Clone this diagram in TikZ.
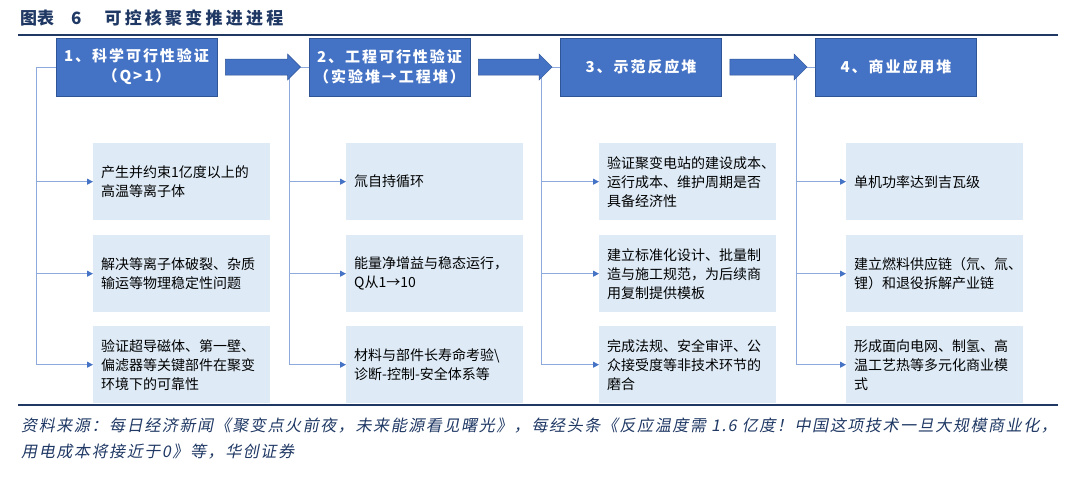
\documentclass[tikz,border=0pt]{standalone}
\usepackage{fontspec}
\setmainfont{Noto Sans CJK SC}
\newfontfamily\cjkhead[LetterSpace=13]{Noto Sans CJK SC}
\newfontfamily\cjktitle[LetterSpace=19]{Noto Sans CJK SC}
\newfontfamily\cjksrc[LetterSpace=10,FakeSlant=0.2]{Noto Sans CJK SC}
\usetikzlibrary{arrows.meta,calc}
\definecolor{navy}{HTML}{1F3864}
\definecolor{hdrfill}{HTML}{4472C4}
\definecolor{hdrdraw}{HTML}{2F5597}
\definecolor{detfill}{HTML}{DEEBF7}
\definecolor{connclr}{HTML}{8EA9DB}
\definecolor{tipclr}{HTML}{4472C4}
\tikzset{
 hdr/.style={fill=hdrfill, draw=hdrdraw, line width=0.8pt, minimum width=161pt, minimum height=58pt, inner sep=0pt, text=white, align=center, font=\cjkhead\bfseries\fontsize{15}{20}\selectfont},
 detbox/.style={fill=detfill, draw=none, minimum width=177pt, minimum height=77pt, inner sep=0pt, anchor=north west},
 dettext/.style={anchor=west, align=left, inner sep=0pt, font=\fontsize{14}{19}\selectfont, text=black},
 conn/.style={draw=connclr, line width=1pt},
 connarr/.style={conn, -{Triangle[length=6pt,width=6pt,color=tipclr]}},
 bigarr/.style={fill=hdrfill, draw=hdrdraw, line width=0.5pt},
 rulebar/.style={draw=navy, line width=2.2pt},
 srctext/.style={anchor=west, inner sep=0pt, text=navy, font=\cjksrc\fontsize{16}{20}\selectfont},
}
\newcommand{\bigarrowbetween}[2]{%
 \draw[bigarr] ($(#1.east)+(8,-8)$) -- ($(#2.west)+(-21,-8)$) -- ($(#2.west)+(-21,-13)$) -- ($(#2.west)+(-8,0)$) -- ($(#2.west)+(-21,13)$) -- ($(#2.west)+(-21,8)$) -- ($(#1.east)+(8,8)$) -- cycle;}
\begin{document}
\begin{tikzpicture}[x=1pt,y=-1pt]
\useasboundingbox (0,0) rectangle (1080,479);
% title
\node[anchor=west, inner sep=0pt, text=navy, font=\bfseries\fontsize{17}{20}\selectfont] (title) at (20,18) {图表\hspace{17pt}6\hspace{23pt}{\cjktitle 可控核聚变推进进程}};
\draw[rulebar] (18,35) -- (1058,35);
% headers
\node[hdr] (h1) at (136.5,67) {1、科学可行性验证\\（Q>1）};
\node[hdr] (h2) at (389.5,67) {2、工程可行性验证\\（实验堆→工程堆）};
\node[hdr] (h3) at (641,67) {3、示范反应堆};
\node[hdr] (h4) at (896,67) {4、商业应用堆};
% detail boxes
\node[detbox] (d11) at (93,143) {};
\node[detbox] (d12) at (93,235) {};
\node[detbox] (d13) at (93,326) {};
\node[detbox] (d21) at (346,143) {};
\node[detbox] (d22) at (346,235) {};
\node[detbox] (d23) at (346,326) {};
\node[detbox] (d31) at (599,143) {};
\node[detbox] (d32) at (599,235) {};
\node[detbox] (d33) at (599,326) {};
\node[detbox] (d41) at (846,143) {};
\node[detbox] (d42) at (846,235) {};
\node[detbox] (d43) at (846,326) {};
% detail texts
\node[dettext] (t11) at ($(d11.west)+(8,0)$) {产生并约束1亿度以上的\\高温等离子体};
\node[dettext] (t12) at ($(d12.west)+(8,0)$) {解决等离子体破裂、杂质\\输运等物理稳定性问题};
\node[dettext] (t13) at ($(d13.west)+(8,0)$) {验证超导磁体、第一壁、\\偏滤器等关键部件在聚变\\环境下的可靠性};
\node[dettext] (t21) at ($(d21.west)+(8,0)$) {氚自持循环};
\node[dettext] (t22) at ($(d22.west)+(8,0)$) {能量净增益与稳态运行，\\Q从1→10};
\node[dettext] (t23) at ($(d23.west)+(8,0)$) {材料与部件长寿命考验\textbackslash\\诊断-控制-安全体系等};
\node[dettext] (t31) at ($(d31.west)+(8,0)$) {验证聚变电站的建设成本、\\运行成本、维护周期是否\\具备经济性};
\node[dettext] (t32) at ($(d32.west)+(8,0)$) {建立标准化设计、批量制\\造与施工规范，为后续商\\用复制提供模板};
\node[dettext] (t33) at ($(d33.west)+(8,0)$) {完成法规、安全审评、公\\众接受度等非技术环节的\\磨合};
\node[dettext] (t41) at ($(d41.west)+(8,0)$) {单机功率达到吉瓦级};
\node[dettext] (t42) at ($(d42.west)+(8,0)$) {建立燃料供应链（氘、氚、\\锂）和退役拆解产业链};
\node[dettext] (t43) at ($(d43.west)+(8,0)$) {形成面向电网、制氢、高\\温工艺热等多元化商业模\\式};
% connectors
\foreach \c in {1,2,3,4}{
  \coordinate (v\c) at ($(h\c.west)+(-19,0)$);
  \draw[connarr] (h\c.west) -- (v\c) |- (d\c3.west);
  \draw[connarr] (v\c |- d\c1.west) -- (d\c1.west);
  \draw[connarr] (v\c |- d\c2.west) -- (d\c2.west);
}
% big arrows
\bigarrowbetween{h1}{h2}
\bigarrowbetween{h2}{h3}
\bigarrowbetween{h3}{h4}
% source
\draw[rulebar] (18,405) -- (1058,405);
\node[srctext] (src1) at (21,426) {资料来源：每日经济新闻《聚变点火前夜，未来能源看见曙光》，每经头条《反应温度需 1.6 亿度！中国这项技术一旦大规模商业化，};
\node[srctext] (src2) at (21,452) {用电成本将接近于0》等，华创证券};
\end{tikzpicture}
\end{document}
